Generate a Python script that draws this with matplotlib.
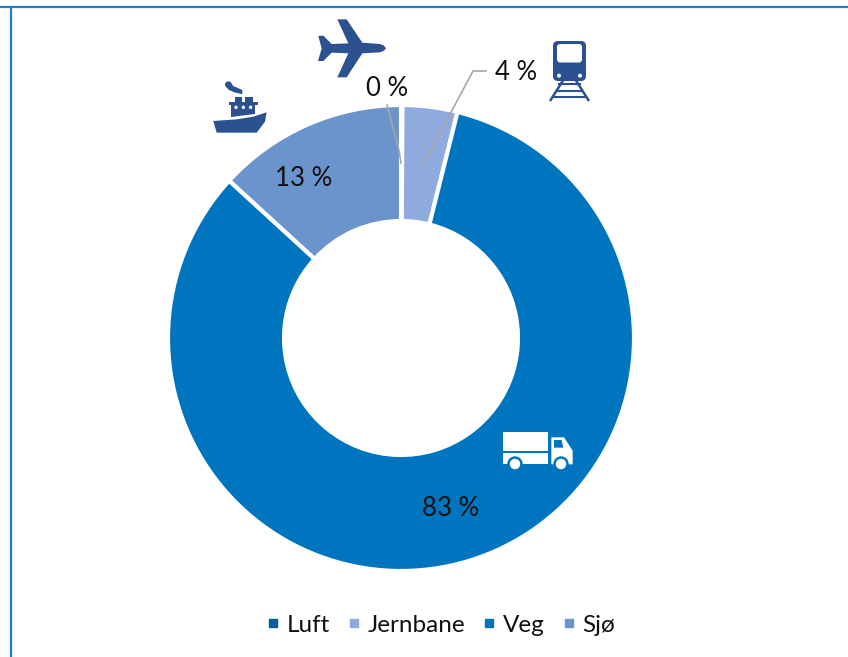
import matplotlib
matplotlib.use('Agg')
import matplotlib.pyplot as plt
from matplotlib.patches import Polygon, Circle, FancyBboxPatch
from matplotlib.lines import Line2D

# data
categories = ['Luft', 'Jernbane', 'Veg', 'Sjø']
values = [0.1, 3.8, 82.9, 13.2]
colors = ['#005F9E', '#8FAADC', '#0075BF', '#6A94CB']

W, H = 848, 657
icon_blue = '#2B5190'
text_color = '#111111'
plt.rcParams['font.family'] = ['Lato', 'DejaVu Sans']

fig = plt.figure(figsize=(W/100, H/100), dpi=100)

# donut, placed by pixels
cx, cy, r = 401, 338, 233
ax = fig.add_axes([(cx-r)/W, (H-cy-r)/H, 2*r/W, 2*r/H])
wedges, _ = ax.pie(values, colors=colors, startangle=90, counterclock=False,
                   radius=1, wedgeprops=dict(width=0.498, edgecolor='white', linewidth=3))
ax.set_xlim(-1, 1)
ax.set_ylim(-1, 1)

# overlay in pixel coords for lines, icons and labels
ov = fig.add_axes([0, 0, 1, 1])
ov.set_xlim(0, W)
ov.set_ylim(H, 0)
ov.axis('off')

# frame lines
ov.plot([0, W], [6.5, 6.5], color='#1B82C9', lw=1.6, solid_capstyle='butt')
ov.plot([10.5, 10.5], [6, H], color='#1B82C9', lw=1.6, solid_capstyle='butt')

# leader lines
ov.plot([401, 399, 387], [163, 150, 105], color='#A6A6A6', lw=1.2)
ov.plot([423, 473, 486], [165, 71, 71], color='#A6A6A6', lw=1.2)

# value labels
label_pos = [(387, 88), (516, 73), (451, 508), (304, 179)]
for v, (x, y) in zip(values, label_pos):
    ov.text(x, y, '%d %%' % round(v), ha='center', va='center', fontsize=18.5, color=text_color)


def zoomed(points, x0, y0):
    return [(x0 + px/3, y0 + py/3) for px, py in points]


# plane
plane = [(355, 108), (370, 107), (395, 132), (445, 130), (412, 58), (440, 58), (487, 128),
         (540, 132), (552, 137), (558, 145), (552, 152), (540, 157), (487, 160), (440, 232),
         (412, 232), (445, 160), (395, 158), (370, 183), (354, 183), (365, 145)]
ov.add_patch(Polygon(zoomed(plane, 200, 0), fc=icon_blue, ec='none'))

# ship
hull = [(40, 363), (110, 358), (160, 350), (200, 337), (195, 365), (170, 398), (50, 398)]
deck = [(93, 352), (93, 315), (87, 315), (87, 305), (105, 305), (105, 292), (127, 292),
        (127, 305), (135, 305), (135, 292), (158, 292), (158, 305), (173, 305), (173, 315),
        (165, 315), (165, 343)]
smoke = [(76, 250), (90, 245), (100, 258), (127, 270), (127, 283), (100, 276), (84, 268)]
ov.add_patch(Polygon(zoomed(hull, 200, 0), fc=icon_blue, ec='none'))
ov.add_patch(Polygon(zoomed(deck, 200, 0), fc=icon_blue, ec='none'))
ov.add_patch(Polygon(zoomed(smoke, 200, 0), fc=icon_blue, ec='none'))
ov.add_patch(Circle((200 + 85/3, 254/3), 3.3, fc=icon_blue, ec='none'))
for px in (108, 130, 152):
    ov.add_patch(Circle((200 + px/3, 322/3), 1.7, fc='white', ec='none'))

# train
ov.add_patch(FancyBboxPatch((553, 41), 33, 40, boxstyle='round,pad=0,rounding_size=5',
                            fc=icon_blue, ec='none'))
ov.add_patch(FancyBboxPatch((557, 44), 25, 18.5, boxstyle='round,pad=0,rounding_size=3',
                            fc='white', ec='none'))
for px in (477, 540):
    ov.add_patch(Circle((400 + px/3, 20 + 167/3), 2, fc='white', ec='none'))
for rail in ([(490, 180), (450, 243)], [(527, 180), (567, 243)]):
    ov.plot(*zip(*zoomed(rail, 400, 20)), color=icon_blue, lw=1.8, solid_capstyle='butt')
for px0, px1, py in [(475, 542, 193), (468, 550, 212), (458, 558, 232)]:
    ov.plot(*zip(*zoomed([(px0, py), (px1, py)], 400, 20)), color=icon_blue, lw=1.5,
            solid_capstyle='butt')

# truck
cargo = [(40, 37), (174, 37), (174, 93), (40, 93)]
band = [(40, 100), (174, 100), (174, 133), (40, 133)]
cab = [(184, 52), (222, 52), (248, 92), (248, 133), (184, 133)]
cab_window = [(192, 60), (215, 60), (220, 83), (192, 83)]
for poly, col in ((cargo, 'white'), (band, 'white'), (cab, 'white'), (cab_window, colors[2])):
    ov.add_patch(Polygon(zoomed(poly, 490, 420), fc=col, ec='none'))
for px in (75, 213):
    ov.add_patch(Circle((490 + px/3, 420 + 132/3), 7.7, fc=colors[2], ec='none'))
    ov.add_patch(Circle((490 + px/3, 420 + 132/3), 5.2, fc='white', ec='none'))

# legend
handles = [Line2D([], [], ls='none', marker='s', ms=5.8, mfc=c, mec=c) for c in colors]
ov.legend(handles, categories, loc='center', bbox_to_anchor=(441, 625),
          bbox_transform=ov.transData, ncol=4, frameon=False, fontsize=17.5,
          labelcolor=text_color, handlelength=0.5, handletextpad=0.3, columnspacing=0.75)

fig.savefig('out.png', dpi=100, facecolor='white')
